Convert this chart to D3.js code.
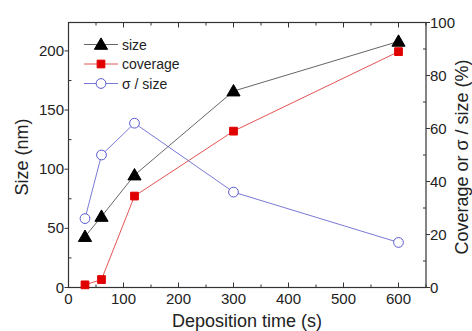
<!DOCTYPE html>
<html>
<head>
<meta charset="utf-8">
<script src="https://cdn.jsdelivr.net/npm/d3@7"></script>
<style>
  body { margin: 0; background: #fff; }
  text { font-family: "Liberation Sans", Arial, sans-serif; fill: #222; }
</style>
</head>
<body>
<div id="chart"></div>
<script>
const times = [30, 60, 120, 300, 600];
const sizeNm = [43, 60, 95, 166, 208];
const coveragePct = [1, 3, 34.5, 59, 89];
const sigmaPct = [26, 50, 62, 36, 17];
const xTicks = [0, 100, 200, 300, 400, 500, 600];
const leftTicks = [0, 50, 100, 150, 200];
const rightTicks = [0, 20, 40, 60, 80, 100];

const width = 472, height = 331;
const m = { left: 68.5, right: 426, top: 22.5, bottom: 287.5 };

const svg = d3.select("#chart").append("svg")
  .attr("width", width)
  .attr("height", height);

const x = d3.scaleLinear().domain([0, 650]).range([m.left, m.right]);
const yL = d3.scaleLinear().domain([0, 224]).range([m.bottom, m.top]);
const yR = d3.scaleLinear().domain([0, 100]).range([m.bottom, m.top]);

// frame
svg.append("rect")
  .attr("x", m.left).attr("y", m.top)
  .attr("width", m.right - m.left).attr("height", m.bottom - m.top)
  .attr("fill", "none").attr("stroke", "#333").attr("stroke-width", 1.2);

const tickColor = "#333";
// bottom + top ticks (inward)
d3.range(0, 651, 50).forEach(v => {
  const major = v % 100 === 0;
  const len = major ? 5 : 3;
  svg.append("line").attr("x1", x(v)).attr("x2", x(v))
    .attr("y1", m.bottom).attr("y2", m.bottom - len).attr("stroke", tickColor);
  svg.append("line").attr("x1", x(v)).attr("x2", x(v))
    .attr("y1", m.top).attr("y2", m.top + len).attr("stroke", tickColor);
});
svg.selectAll(".xl").data(xTicks).join("text")
  .attr("x", d => x(d)).attr("y", 304)
  .attr("text-anchor", "middle").style("font-size", "15px").text(d => d);

// left ticks
d3.range(0, 224, 25).forEach(v => {
  const major = v % 50 === 0;
  svg.append("line").attr("y1", yL(v)).attr("y2", yL(v))
    .attr("x1", m.left).attr("x2", major ? m.left - 4 : m.left + 3).attr("stroke", tickColor);
});
svg.selectAll(".yl").data(leftTicks).join("text")
  .attr("x", 64).attr("y", d => yL(d) + 5)
  .attr("text-anchor", "end").style("font-size", "15px").text(d => d);

// right ticks
d3.range(0, 101, 10).forEach(v => {
  const major = v % 20 === 0;
  svg.append("line").attr("y1", yR(v)).attr("y2", yR(v))
    .attr("x1", m.right).attr("x2", major ? m.right + 4 : m.right - 3).attr("stroke", tickColor);
});
svg.selectAll(".yr").data(rightTicks).join("text")
  .attr("x", 430).attr("y", d => yR(d) + 5)
  .attr("text-anchor", "start").style("font-size", "15px").text(d => d);

// axis titles
svg.append("text")
  .attr("x", 247).attr("y", 327)
  .attr("text-anchor", "middle").style("font-size", "18px")
  .text("Deposition time (s)");
svg.append("text")
  .attr("transform", `translate(28,${157}) rotate(-90)`)
  .attr("text-anchor", "middle").style("font-size", "18px")
  .text("Size (nm)");
svg.append("text")
  .attr("transform", `translate(468,${157}) rotate(-90)`)
  .attr("text-anchor", "middle").style("font-size", "18px")
  .text("Coverage or σ / size (%)");

// series
const series = [
  { name: "size", vals: sizeNm, y: yL, line: "#555", mark: "tri", fill: "#000", stroke: "#000" },
  { name: "coverage", vals: coveragePct, y: yR, line: "#e04040", mark: "sq", fill: "#e00000", stroke: "#e00000" },
  { name: "σ / size", vals: sigmaPct, y: yR, line: "#6a6ad0", mark: "circ", fill: "#fff", stroke: "#5a5ad0" }
];

const tri = d3.symbol().type(d3.symbolTriangle).size(75);
const sq = d3.symbol().type(d3.symbolSquare).size(60);
const circ = d3.symbol().type(d3.symbolCircle).size(75);
const shapes = { tri, sq, circ };

series.forEach(s => {
  const pts = times.map((t, i) => [x(t), s.y(s.vals[i])]);
  svg.append("path")
    .attr("d", d3.line()(pts))
    .attr("fill", "none").attr("stroke", s.line).attr("stroke-width", 0.9);
  svg.selectAll(null).data(pts).join("path")
    .attr("transform", d => `translate(${d[0]},${d[1] + (s.mark === "tri" ? 1 : 0)})`)
    .attr("d", shapes[s.mark]())
    .attr("fill", s.fill).attr("stroke", s.stroke).attr("stroke-width", 1);
});

// legend
series.forEach((s, i) => {
  const ly = 44.5 + i * 19.5;
  svg.append("line").attr("x1", 84).attr("x2", 118).attr("y1", ly).attr("y2", ly)
    .attr("stroke", s.line).attr("stroke-width", 0.9);
  svg.append("path")
    .attr("transform", `translate(101,${ly + (s.mark === "tri" ? 1 : 0)})`)
    .attr("d", shapes[s.mark]())
    .attr("fill", s.fill).attr("stroke", s.stroke).attr("stroke-width", 1);
  svg.append("text").attr("x", 122).attr("y", ly + 5)
    .style("font-size", "14px").text(s.name);
});
</script>
</body>
</html>
